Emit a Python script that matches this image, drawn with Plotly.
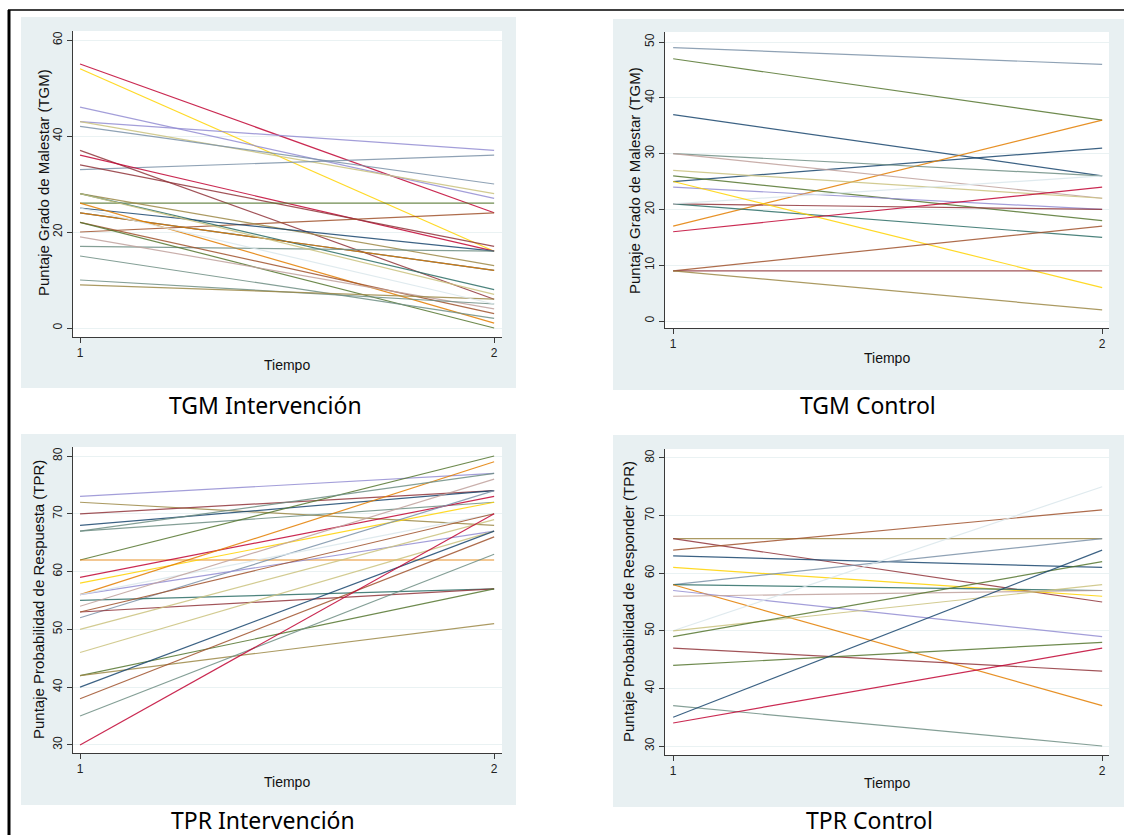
import plotly.graph_objects as go

W, H = 1124, 835

# Stata s2color palette
PAL = {
    'navy': '#1a476f', 'maroon': '#90353b', 'forest': '#55752f', 'dkorange': '#e37e00',
    'teal': '#6e8e84', 'cranberry': '#c10534', 'lavender': '#938dd2', 'khaki': '#cac27e',
    'sienna': '#a0522d', 'emidblue': '#7b92a8', 'emerald': '#2d6d66', 'brown': '#9c8847',
    'erose': '#bfa19c', 'gold': '#ffd200', 'bluishgray': '#d9e6eb'}

tiempo = [1, 2]

# ---- TGM Intervención ----
tgm_int_t1 = [55, 54, 46, 43, 43, 42, 33, 37, 36, 34, 26, 20, 28, 28, 25, 24, 24, 26, 17, 22, 22, 19, 15, 10, 9, 28, 25]
tgm_int_t2 = [24, 16, 27, 37, 28, 30, 36, 6, 16, 17, 26, 24, 13, 8, 16, 12, 12, 1, 16, 3, 0, 4, 2, 5, 6, 7, 5]
tgm_int_col = ['cranberry', 'gold', 'lavender', 'lavender', 'khaki', 'emidblue', 'emidblue', 'maroon',
               'cranberry', 'maroon', 'forest', 'sienna', 'brown', 'emerald', 'navy', 'navy', 'dkorange',
               'dkorange', 'teal', 'sienna', 'forest', 'erose', 'teal', 'teal', 'brown', 'khaki', 'bluishgray']

# ---- TGM Control ----
tgm_ctl_t1 = [49, 47, 37, 25, 17, 30, 30, 27, 26, 24, 21, 21, 21, 25, 16, 9, 9, 9]
tgm_ctl_t2 = [46, 36, 26, 31, 36, 26, 22, 22, 18, 20, 20, 15, 26, 6, 24, 17, 9, 2]
tgm_ctl_col = ['emidblue', 'forest', 'navy', 'navy', 'dkorange', 'teal', 'erose', 'khaki', 'forest',
               'lavender', 'maroon', 'emerald', 'bluishgray', 'gold', 'cranberry', 'sienna', 'maroon', 'brown']

# ---- TPR Intervención ----
tpr_int_t1 = [73, 72, 70, 68, 67, 62, 62, 59, 58, 56, 52, 56, 56, 55, 54, 53, 53, 50, 46, 42, 42, 40, 38, 35, 30, 67]
tpr_int_t2 = [77, 68, 74, 74, 72, 80, 62, 73, 72, 79, 74, 67, 70, 57, 76, 57, 70, 69, 67, 57, 51, 67, 66, 63, 70, 77]
tpr_int_col = ['lavender', 'brown', 'maroon', 'navy', 'teal', 'forest', 'dkorange', 'cranberry', 'gold',
               'dkorange', 'emidblue', 'lavender', 'bluishgray', 'emerald', 'erose', 'maroon', 'sienna',
               'khaki', 'khaki', 'forest', 'brown', 'navy', 'sienna', 'teal', 'cranberry', 'teal']

# ---- TPR Control ----
tpr_ctl_t1 = [66, 66, 64, 63, 61, 58, 58, 58, 57, 56, 50, 50, 49, 47, 44, 37, 35, 34]
tpr_ctl_t2 = [66, 55, 71, 61, 56, 66, 57, 37, 49, 57, 75, 58, 62, 43, 48, 30, 64, 47]
tpr_ctl_col = ['brown', 'maroon', 'sienna', 'navy', 'gold', 'emidblue', 'emerald', 'dkorange', 'lavender',
               'erose', 'bluishgray', 'khaki', 'forest', 'maroon', 'forest', 'teal', 'navy', 'cranberry']

ytitles = ['Puntaje Grado de Malestar (TGM)', 'Puntaje Grado de Malestar (TGM)',
           'Puntaje Probabilidad de Respuesta (TPR)', 'Puntaje Probabilidad de Responder (TPR)']
captions = ['TGM Intervención', 'TGM Control', 'TPR Intervención', 'TPR Control']
yticks = [[0, 20, 40, 60], [0, 10, 20, 30, 40, 50], [30, 40, 50, 60, 70, 80], [30, 40, 50, 60, 70, 80]]

datasets = [(tgm_int_t1, tgm_int_t2, tgm_int_col), (tgm_ctl_t1, tgm_ctl_t2, tgm_ctl_col),
            (tpr_int_t1, tpr_int_t2, tpr_int_col), (tpr_ctl_t1, tpr_ctl_t2, tpr_ctl_col)]

# layout geometry in pixels
panels = [
    dict(bg=(21, 17, 516, 388), plot=(73, 31, 502, 337), xr=[0.983, 2.019], yr=[-1.875, 61.875],
         ytitle=(43, 183), xtitle=(287, 365), cap=(265, 405)),
    dict(bg=(613, 19, 1124, 390), plot=(665, 32, 1109, 328), xr=[0.981, 2.016], yr=[-1.25, 51.8],
         ytitle=(635, 181), xtitle=(887, 358), cap=(868, 405)),
    dict(bg=(21, 434, 516, 805), plot=(73, 447, 502, 753), xr=[0.983, 2.019], yr=[28.6, 81.56],
         ytitle=(38, 600), xtitle=(287, 782), cap=(263, 820)),
    dict(bg=(613, 435, 1124, 807), plot=(665, 449, 1109, 755), xr=[0.981, 2.016], yr=[28.44, 81.56],
         ytitle=(628, 602), xtitle=(887, 783), cap=(869, 820)),
]

def px(x):
    return x / W

def py(y):
    return 1 - y / H

fig = go.Figure()
shapes = []
annotations = []
axis_font = dict(family='Liberation Sans, Arial, sans-serif', size=12, color='#222222')
title_family = 'Liberation Sans, Arial, sans-serif'

for i, (p, (a, b, cols)) in enumerate(zip(panels, datasets)):
    n = i + 1
    xa = 'x' if n == 1 else f'x{n}'
    ya = 'y' if n == 1 else f'y{n}'
    for v1, v2, c in zip(a, b, cols):
        fig.add_trace(go.Scatter(x=tiempo, y=[v1, v2], mode='lines', xaxis=xa, yaxis=ya,
                                 line=dict(color=PAL[c], width=1.2), opacity=0.85,
                                 hoverinfo='skip', showlegend=False))
    x0, y0, x1, y1 = p['plot']
    common = dict(showline=True, linecolor='#3a3a3a', linewidth=1, ticks='outside', ticklen=5,
                  tickcolor='#3a3a3a', tickfont=axis_font, zeroline=False, fixedrange=True)
    fig.layout[f'xaxis{"" if n == 1 else n}'] = dict(
        domain=[px(x0), px(x1)], range=p['xr'], anchor=ya, tickvals=[1, 2], ticktext=['1', '2'],
        showgrid=False, **common)
    fig.layout[f'yaxis{"" if n == 1 else n}'] = dict(
        domain=[py(y1), py(y0)], range=p['yr'], anchor=xa, tickvals=yticks[i], tickangle=-90,
        showgrid=True, gridcolor='#eaf2f3', gridwidth=1, **common)
    bx0, by0, bx1, by1 = p['bg']
    shapes.append(dict(type='rect', xref='paper', yref='paper', x0=px(bx0), x1=px(bx1),
                       y0=py(by1), y1=py(by0), fillcolor='#e8f0f2', line=dict(width=0), layer='below'))
    shapes.append(dict(type='rect', xref='paper', yref='paper', x0=px(x0), x1=px(x1),
                       y0=py(y1), y1=py(y0), fillcolor='#ffffff', line=dict(width=0), layer='below'))
    tx, ty = p['ytitle']
    annotations.append(dict(text=ytitles[i], x=px(tx), y=py(ty), xref='paper', yref='paper',
                            showarrow=False, textangle=-90, xanchor='center', yanchor='middle',
                            font=dict(family=title_family, size=15, color='#111111')))
    tx, ty = p['xtitle']
    annotations.append(dict(text='Tiempo', x=px(tx), y=py(ty), xref='paper', yref='paper',
                            showarrow=False, xanchor='center', yanchor='middle',
                            font=dict(family=title_family, size=14, color='#111111')))
    tx, ty = p['cap']
    annotations.append(dict(text=captions[i], x=px(tx), y=py(ty), xref='paper', yref='paper',
                            showarrow=False, xanchor='center', yanchor='middle',
                            font=dict(family='Noto Sans, sans-serif', size=23, color='#000000')))

# outer black border (top and left)
shapes.append(dict(type='line', xref='paper', yref='paper', x0=px(8), x1=1, y0=py(10), y1=py(10),
                   line=dict(color='#000000', width=1.5)))
shapes.append(dict(type='line', xref='paper', yref='paper', x0=px(9), x1=px(9), y0=py(10), y1=0,
                   line=dict(color='#000000', width=3)))

fig.update_layout(width=W, height=H, margin=dict(l=0, r=0, t=0, b=0), paper_bgcolor='#ffffff',
                  plot_bgcolor='rgba(0,0,0,0)', shapes=shapes, annotations=annotations,
                  showlegend=False)

fig.write_html('out.html', config={'displayModeBar': False, 'staticPlot': True})

# remove the default page margin so the figure sits at the window's top-left corner
with open('out.html', 'r', encoding='utf-8') as f:
    html = f.read()
html = html.replace('<head>', '<head><style>html,body{margin:0;padding:0;overflow:hidden;}</style>', 1)
with open('out.html', 'w', encoding='utf-8') as f:
    f.write(html)
